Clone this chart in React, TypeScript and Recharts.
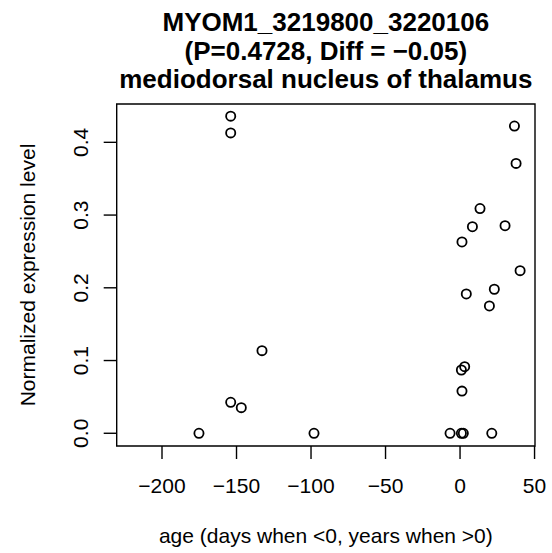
import React from "react";
import { ScatterChart, Scatter, XAxis, YAxis, ReferenceArea } from "recharts";

const titleLines = [
  "MYOM1_3219800_3220106",
  "(P=0.4728, Diff = \u22120.05)",
  "mediodorsal nucleus of thalamus",
];
const xLabel = "age (days when <0, years when >0)";
const yLabel = "Normalized expression level";

const ages = [
  -153.9, -153.9, -132.9, -153.9, -146.8, -175.2, -98,
  36.5, 37.6, 13.4, 8.3, 30.2, 1.3, 40.3, 23, 4.2, 19.7, 3.1, 0.9, 1.3, -6.7, 0.9, 2.2, 21.3,
];
const exprs = [
  0.436, 0.413, 0.1136, 0.0426, 0.0352, 0, 0,
  0.4224, 0.371, 0.309, 0.284, 0.2854, 0.263, 0.2236, 0.198, 0.1915, 0.175, 0.0916, 0.087, 0.058, 0, 0, 0, 0,
];
const xTicks = [-200, -150, -100, -50, 0, 50];
const yTicks = [0, 0.1, 0.2, 0.3, 0.4];
const xDomain: [number, number] = [-230.4, 50.3];
const yDomain: [number, number] = [-0.0175, 0.4527];

const data = ages.map((a, i) => ({ age: a, expr: exprs[i] }));

const FONT = "'Liberation Sans', Arial, Helvetica, sans-serif";
const AXIS_FS = 21;
const TITLE_FS = 26;

const fmtX = (v: number) => (v < 0 ? "\u2212" + Math.abs(v) : String(v));
const fmtY = (v: number) => v.toFixed(1);

const XTick = (props: any) => {
  const { x, y, payload } = props;
  return (
    <text x={x} y={y} dy={14.9} textAnchor="middle" fontSize={AXIS_FS} fill="#000" fontFamily={FONT}>
      {fmtX(payload.value)}
    </text>
  );
};

const YTick = (props: any) => {
  const { x, y, payload } = props;
  return (
    <text
      x={x}
      y={y}
      transform={`rotate(-90, ${x}, ${y})`}
      textAnchor="middle"
      fontSize={AXIS_FS}
      fill="#000"
      fontFamily={FONT}
    >
      {fmtY(payload.value)}
    </text>
  );
};

const OpenCircle = (props: any) => {
  const { cx, cy } = props;
  return <circle cx={cx} cy={cy} r={4.6} fill="none" stroke="#000" strokeWidth={1.8} />;
};

export default function App() {
  const W = 552;
  const H = 553;
  const plotLeft = 116.7;
  const plotRight = 535;
  const plotTop = 104;
  const plotBottom = 446;
  const cx = (plotLeft + plotRight) / 2;
  const cy = (plotTop + plotBottom) / 2;
  return (
    <div style={{ position: "absolute", left: 0, top: 0, width: W, height: H, background: "#fff" }}>
      <ScatterChart
        width={W}
        height={H}
        margin={{ top: plotTop, right: W - plotRight, bottom: H - plotBottom - 60, left: plotLeft - 60 }}
      >
        <XAxis
          type="number"
          dataKey="age"
          domain={xDomain}
          ticks={xTicks}
          allowDataOverflow
          axisLine={false}
          tickLine={{ stroke: "#000", strokeWidth: 1.4 }}
          tickSize={13}
          tickMargin={18.8}
          height={60}
          tick={<XTick />}
          interval={0}
        />
        <YAxis
          type="number"
          dataKey="expr"
          domain={yDomain}
          ticks={yTicks}
          allowDataOverflow
          axisLine={false}
          tickLine={{ stroke: "#000", strokeWidth: 1.4 }}
          tickSize={13}
          tickMargin={15.4}
          width={60}
          tick={<YTick />}
          interval={0}
        />
        <ReferenceArea
          x1={xDomain[0]}
          x2={xDomain[1]}
          y1={yDomain[0]}
          y2={yDomain[1]}
          fill="none"
          fillOpacity={0}
          stroke="#000"
          strokeWidth={1.4}
          ifOverflow="visible"
        />
        <Scatter data={data} isAnimationActive={false} shape={<OpenCircle />} />
      </ScatterChart>
      <svg
        width={W}
        height={H}
        style={{ position: "absolute", left: 0, top: 0, pointerEvents: "none" }}
      >
        {titleLines.map((t, i) => (
          <text
            key={i}
            x={cx}
            y={31 + i * 28.5}
            textAnchor="middle"
            fontSize={TITLE_FS}
            fontWeight="bold"
            fontFamily={FONT}
            fill="#000"
          >
            {t}
          </text>
        ))}
        <text x={cx} y={542.5} textAnchor="middle" fontSize={AXIS_FS} fontFamily={FONT} fill="#000">
          {xLabel}
        </text>
        <text
          x={35}
          y={cy}
          transform={`rotate(-90, 35, ${cy})`}
          textAnchor="middle"
          fontSize={AXIS_FS}
          fontFamily={FONT}
          fill="#000"
        >
          {yLabel}
        </text>
      </svg>
    </div>
  );
}
